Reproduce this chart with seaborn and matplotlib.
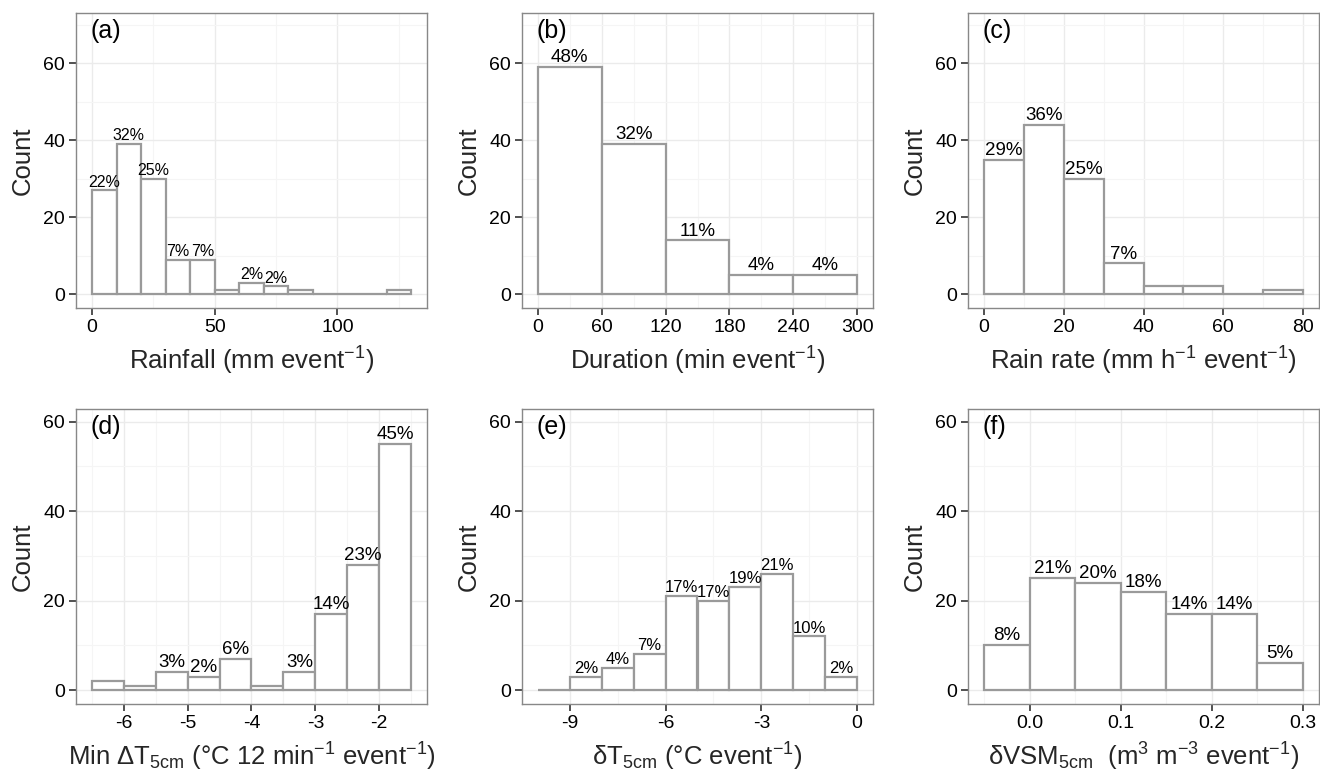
import numpy as np
import pandas as pd
import matplotlib
matplotlib.use("Agg")
import matplotlib.pyplot as plt
from matplotlib.ticker import FixedLocator
import seaborn as sns

sns.set_style("white")
plt.rcParams['font.family'] = ['Liberation Sans', 'DejaVu Sans']
plt.rcParams['mathtext.default'] = 'regular'

# ---- data ----
rain_start = 0; rain_width = 10
rain_counts = [27, 39, 30, 9, 9, 1, 3, 2, 1, 0, 0, 0, 1]
rain_labels = ["22%", "32%", "25%", "7%", "7%", "", "2%", "2%", "", "", "", "", ""]

dur_start = 0; dur_width = 60
dur_counts = [59, 39, 14, 5, 5]
dur_labels = ["48%", "32%", "11%", "4%", "4%"]

rate_start = 0; rate_width = 10
rate_counts = [35, 44, 30, 8, 2, 2, 0, 1]
rate_labels = ["29%", "36%", "25%", "7%", "", "", "", ""]

mindt_start = -6.5; mindt_width = 0.5
mindt_counts = [2, 1, 4, 3, 7, 1, 4, 17, 28, 55]
mindt_labels = ["", "", "3%", "2%", "6%", "", "3%", "14%", "23%", "45%"]

dt_start = -10; dt_width = 1
dt_counts = [0, 3, 5, 8, 21, 20, 23, 26, 12, 3]
dt_labels = ["", "2%", "4%", "7%", "17%", "17%", "19%", "21%", "10%", "2%"]

vsm_start = -0.05; vsm_width = 0.05
vsm_counts = [10, 25, 24, 22, 17, 17, 6]
vsm_labels = ["8%", "21%", "20%", "18%", "14%", "14%", "5%"]

panels = [
    dict(tag="(a)", start=rain_start, width=rain_width, counts=rain_counts, labels=rain_labels,
         xticks=[0, 50, 100], xticklabels=["0", "50", "100"],
         xlabel="Rainfall (mm event$^{-1}$)", ylim=(-3.6, 73.1), lab_fs=11.5),
    dict(tag="(b)", start=dur_start, width=dur_width, counts=dur_counts, labels=dur_labels,
         xticks=[0, 60, 120, 180, 240, 300], xticklabels=["0", "60", "120", "180", "240", "300"],
         xlabel="Duration (min event$^{-1}$)", ylim=(-3.6, 73.1), lab_fs=13.5),
    dict(tag="(c)", start=rate_start, width=rate_width, counts=rate_counts, labels=rate_labels,
         xticks=[0, 20, 40, 60, 80], xticklabels=["0", "20", "40", "60", "80"],
         xlabel="Rain rate (mm h$^{-1}$ event$^{-1}$)", ylim=(-3.6, 73.1), lab_fs=13.5),
    dict(tag="(d)", start=mindt_start, width=mindt_width, counts=mindt_counts, labels=mindt_labels,
         xticks=[-6, -5, -4, -3, -2], xticklabels=["-6", "-5", "-4", "-3", "-2"],
         xlabel="Min $\\Delta$T$_{5cm}$ (°C 12 min$^{-1}$ event$^{-1}$)", ylim=(-3.1, 62.8), lab_fs=13.5),
    dict(tag="(e)", start=dt_start, width=dt_width, counts=dt_counts, labels=dt_labels,
         xticks=[-9, -6, -3, 0], xticklabels=["-9", "-6", "-3", "0"],
         xlabel="δT$_{5cm}$ (°C event$^{-1}$)", ylim=(-3.1, 62.8), lab_fs=12),
    dict(tag="(f)", start=vsm_start, width=vsm_width, counts=vsm_counts, labels=vsm_labels,
         xticks=[0.0, 0.1, 0.2, 0.3], xticklabels=["0.0", "0.1", "0.2", "0.3"],
         xlabel="δVSM$_{5cm}$  (m$^{3}$ m$^{-3}$ event$^{-1}$)", ylim=(-3.1, 62.8), lab_fs=13.5),
]

W, H = 1320, 774
fig = plt.figure(figsize=(W / 100, H / 100), dpi=100)
lefts = [76, 522, 968]
tops = [13, 409]
pw, ph = 351, 295

grid_col = "#ebebeb"
minor_col = "#f5f5f5"
edge_col = "#9a9a9a"

for i, p in enumerate(panels):
    r, c = divmod(i, 3)
    ax = fig.add_axes([lefts[c] / W, 1 - (tops[r] + ph) / H, pw / W, ph / H])
    n = len(p["counts"])
    edges = [p["start"] + p["width"] * k for k in range(n + 1)]
    centers = [(edges[k] + edges[k + 1]) / 2 for k in range(n)]
    df = pd.DataFrame({"x": centers, "count": p["counts"]})
    sns.histplot(data=df, x="x", weights="count", bins=edges, ax=ax,
                 color="white", edgecolor=edge_col, linewidth=1.6, alpha=1, zorder=3)
    lo, hi = edges[0], edges[-1]
    pad = 0.05 * (hi - lo)
    ax.set_xlim(lo - pad, hi + pad)
    ax.set_ylim(*p["ylim"])
    ax.set_xticks(p["xticks"])
    ax.set_xticklabels(p["xticklabels"])
    ax.set_yticks([0, 20, 40, 60])
    ax.set_yticklabels(["0", "20", "40", "60"])
    xt = p["xticks"]
    step = xt[1] - xt[0]
    minor_x = [t + step / 2 for t in [xt[0] - step] + list(xt)]
    ax.xaxis.set_minor_locator(FixedLocator(minor_x))
    ax.yaxis.set_minor_locator(FixedLocator([-10, 10, 30, 50, 70]))
    ax.grid(True, which="major", color=grid_col, linewidth=1.0, zorder=0)
    ax.grid(True, which="minor", color=minor_col, linewidth=0.8, zorder=0)
    ax.set_axisbelow(True)
    ax.tick_params(axis="both", which="major", direction="out", length=5, width=1.2,
                   color="#333333", labelsize=14, labelcolor="black", pad=3,
                   bottom=True, left=True)
    ax.tick_params(axis="both", which="minor", length=0)
    for s in ax.spines.values():
        s.set_color("#888888")
        s.set_linewidth(1.0)
    ax.set_xlabel(p["xlabel"], fontsize=18.5, labelpad=6)
    ax.set_ylabel("Count", fontsize=18.5, labelpad=6)
    for xc, cnt, lab in zip(centers, p["counts"], p["labels"]):
        if lab:
            ax.text(xc, cnt + 0.2, lab, ha="center", va="bottom", fontsize=p["lab_fs"],
                    color="black", zorder=4)
    ax.text(0.04, 0.98, p["tag"], transform=ax.transAxes, ha="left", va="top",
            fontsize=18, color="black")

fig.savefig("out.png", dpi=100)
